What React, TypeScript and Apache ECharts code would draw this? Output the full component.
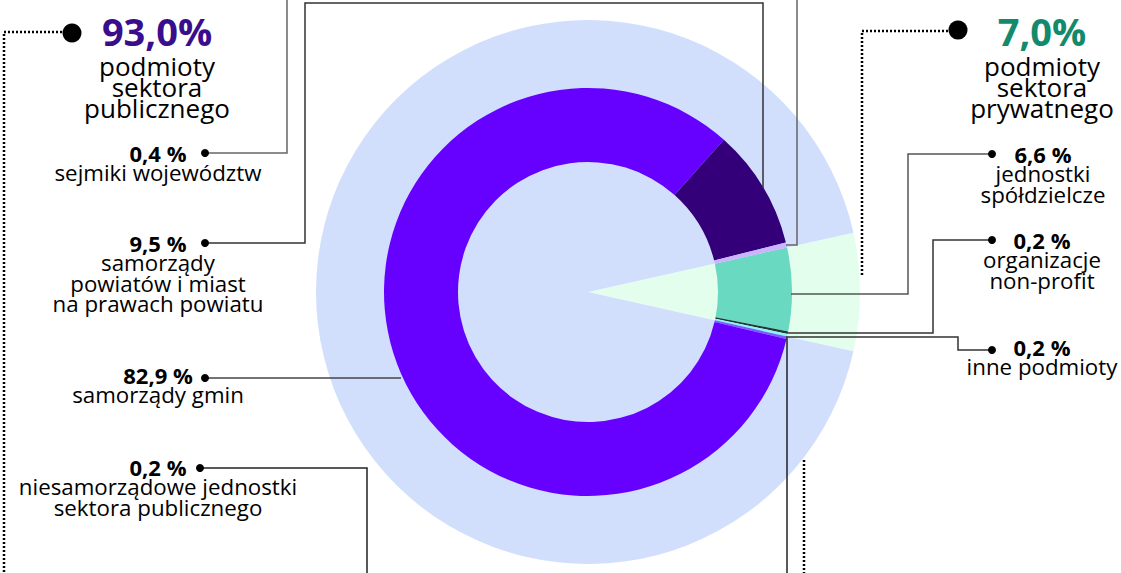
import React, { useEffect, useRef } from 'react';
import * as echarts from 'echarts';

// ---------- data ----------
const sectorNames = ['podmioty sektora prywatnego', 'podmioty sektora publicznego'];
const sectorValues = [7.0, 93.0];
const sectorLabelLines = [
  ['podmioty', 'sektora', 'prywatnego'],
  ['podmioty', 'sektora', 'publicznego'],
];

const categoryNames = [
  'jednostki spółdzielcze',
  'organizacje non-profit',
  'inne podmioty',
  'niesamorządowe jednostki sektora publicznego',
  'samorządy gmin',
  'samorządy powiatów i miast na prawach powiatu',
  'sejmiki województw',
];
const categoryValues = [6.6, 0.2, 0.2, 0.2, 82.9, 9.5, 0.4];
const categoryLabelLines = [
  ['jednostki', 'spółdzielcze'],
  ['organizacje', 'non-profit'],
  ['inne podmioty'],
  ['niesamorządowe jednostki', 'sektora publicznego'],
  ['samorządy gmin'],
  ['samorządy', 'powiatów i miast', 'na prawach powiatu'],
  ['sejmiki województw'],
];

// ---------- styles / layout ----------
const FONT = '"Open Sans", "Noto Sans", sans-serif';
const sectorColors = ['#E4FEEE', '#D1DFFD'];
const sectorTextColors = ['#138A6B', '#3A0D8C'];
const categoryColors = ['#69D9C1', '#1F3A37', '#8CF5F5', '#7A5CFF', '#6600FF', '#33007A', '#CCB2FF'];
const CENTER = [588, 292];
const OUTER_R = 272;
const RING = [130, 204];

// label layout: [centerX, boldBaseline, dotX, dotY]
const categoryLabelPos = [
  [1043, 162, 992, 154],
  [1042, 248, 992, 240],
  [1042, 355, 992, 350],
  [158, 475, 200, 468],
  [158, 383, 205, 378],
  [158, 251, 205, 243],
  [158, 161, 205, 153],
];
const categoryLeaders = [
  [[992, 154], [908, 154], [908, 294], [791, 294]],
  [[992, 240], [933, 240], [933, 333], [788, 333]],
  [[992, 350], [958, 350], [958, 337], [788, 337]],
  [[200, 468], [367, 468], [367, 620], [787, 620], [787, 336]],
  [[205, 378], [401, 378]],
  [[205, 243], [305, 243], [305, 3], [763, 3], [763, 188]],
  [[205, 153], [287, 153], [287, -10], [797, -10], [797, 245], [786, 245]],
];
const leaderColors = ['#555', '#333', '#333', '#222', '#444', '#333', '#666'];

const sectorLabelPos = [
  [1042, 45, 958, 30],
  [157, 45, 72, 33],
];
const sectorLeaders = [
  [[948, 31], [862, 31], [862, 277]],
  [[62, 32], [4, 32], [4, 620], [804, 620], [804, 458]],
];

const fmt = (v: number, space: boolean) => v.toFixed(1).replace('.', ',') + (space ? ' %' : '%');

function txt(x: number, baseline: number, text: string, size: number, weight: string, color: string) {
  return {
    type: 'text',
    z: 100,
    silent: true,
    x,
    y: baseline - size * 0.36,
    style: {
      text,
      fill: color,
      fontSize: size,
      fontWeight: weight,
      fontFamily: FONT,
      textAlign: 'center',
      textVerticalAlign: 'middle',
      align: 'center',
      verticalAlign: 'middle',
    },
  };
}

function line(points: number[][], color: string, width: number, dash?: number[]) {
  return {
    type: 'polyline',
    z: 90,
    silent: true,
    shape: { points },
    style: { stroke: color, lineWidth: width, fill: null, lineDash: dash || null },
  };
}

function dot(x: number, y: number, r: number) {
  return { type: 'circle', z: 95, silent: true, shape: { cx: x, cy: y, r }, style: { fill: '#000' } };
}

export default function App() {
  const ref = useRef<HTMLDivElement>(null);

  useEffect(() => {
    document.body.style.margin = '0';
    if (!ref.current) return;
    const chart = echarts.init(ref.current, null, { renderer: 'svg' });

    const total = sectorValues.reduce((a, b) => a + b, 0);
    const startAngle = (sectorValues[0] / total) * 180;

    const graphics: any[] = [];
    categoryValues.forEach((v, i) => {
      const [cx, by, dx, dy] = categoryLabelPos[i];
      graphics.push(line(categoryLeaders[i], leaderColors[i], 1.5));
      graphics.push(dot(dx, dy, 4));
      graphics.push(txt(cx, by, fmt(v, true), 22, 'bold', '#000'));
      categoryLabelLines[i].forEach((t, k) => {
        graphics.push(txt(cx, by + 20 + k * 20.5, t, 22.3, 'normal', '#000'));
      });
    });
    sectorValues.forEach((v, i) => {
      const [cx, by, dx, dy] = sectorLabelPos[i];
      graphics.push(line(sectorLeaders[i], '#000', 2.5, [2, 2]));
      graphics.push(dot(dx, dy, 9.5));
      graphics.push(txt(cx, by, fmt(v, false), 38, 'bold', sectorTextColors[i]));
      sectorLabelLines[i].forEach((t, k) => {
        graphics.push(txt(cx, by + 30 + k * 21, t, 26, 'normal', '#000'));
      });
    });

    chart.setOption({
      animation: false,
      backgroundColor: '#fff',
      series: [
        {
          type: 'pie',
          silent: true,
          center: CENTER,
          radius: [0, OUTER_R],
          startAngle,
          clockwise: true,
          label: { show: false },
          labelLine: { show: false },
          itemStyle: { borderWidth: 0 },
          data: sectorNames.map((n, i) => ({ name: n, value: sectorValues[i], itemStyle: { color: sectorColors[i] } })),
        },
        {
          type: 'pie',
          silent: true,
          center: CENTER,
          radius: RING,
          startAngle,
          clockwise: true,
          label: { show: false },
          labelLine: { show: false },
          itemStyle: { borderWidth: 0 },
          data: categoryNames.map((n, i) => ({ name: n, value: categoryValues[i], itemStyle: { color: categoryColors[i] } })),
        },
      ],
      graphic: { elements: graphics },
    });

    return () => chart.dispose();
  }, []);

  return <div ref={ref} style={{ width: 1121, height: 573 }} />;
}
